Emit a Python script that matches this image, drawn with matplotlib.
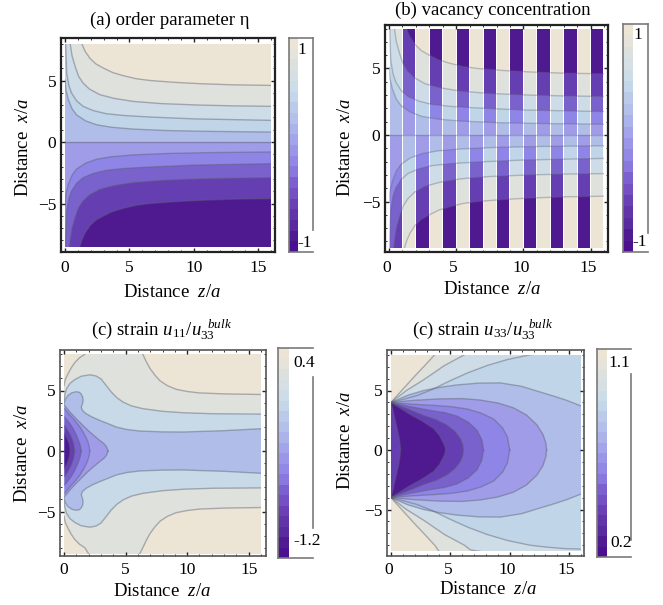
import numpy as np
import matplotlib
matplotlib.use("Agg")
import matplotlib.pyplot as plt
from matplotlib.lines import Line2D
from matplotlib.patches import Polygon, Rectangle
from matplotlib.transforms import ScaledTranslation

plt.rcParams['font.family'] = ['Liberation Serif', 'DejaVu Serif']
plt.rcParams['mathtext.fontset'] = 'custom'
plt.rcParams['mathtext.rm'] = 'Liberation Serif'
plt.rcParams['mathtext.it'] = 'Liberation Serif:italic'

W, H = 663, 605

# contour levels, (z, x) in units of a
eta1_z = [1.0, 1.3, 1.55, 1.94, 2.4, 3.0, 3.7, 4.5, 5.5, 6.6, 8.5, 10.5, 13, 16]
eta1_x = [9.0, 8.0, 7.4, 6.8, 6.35, 6.0, 5.65, 5.4, 5.15, 5.0, 4.85, 4.74, 4.65, 4.6]
eta2_z = [0.3, 0.4, 0.55, 0.8, 1.05, 1.4, 1.9, 2.7, 3.8, 5.3, 7.5, 10.5, 13, 16]
eta2_x = [9.0, 8.0, 7.0, 6.1, 5.35, 4.8, 4.3, 3.85, 3.55, 3.3, 3.12, 3.0, 2.94, 2.9]
eta3_z = [0.02, 0.05, 0.13, 0.3, 0.5, 0.9, 1.4, 2.2, 3.2, 4.6, 6.6, 10, 16]
eta3_x = [9.0, 8.0, 5.6, 4.6, 4.0, 3.35, 2.9, 2.55, 2.3, 2.15, 2.03, 1.88, 1.76]
eta4_z = [0, 0.08, 0.26, 0.55, 0.9, 1.6, 2.46, 3.6, 5.3, 8, 11.5, 16]
eta4_x = [5.07, 4.2, 3.44, 2.7, 2.2, 1.72, 1.4, 1.2, 1.05, 0.93, 0.86, 0.81]

u11a_z = [0, 0.1, 0.33, 0.6, 0.87, 1.25, 1.7, 2.3, 5.9, 6.4, 6.7, 7, 7.4, 7.8, 8.4, 9.1, 10, 11, 13, 16]
u11a_x = [5.4, 5.9, 6.4, 6.9, 7.3, 7.7, 8.0, 9.0, 9.0, 8.0, 7.35, 6.8, 6.25, 5.8, 5.4, 5.1, 4.92, 4.8, 4.72, 4.67]
u11b_z = [0, 0.08, 0.2, 0.5, 0.87, 1.4, 2.1, 2.6, 3.0, 3.4, 3.85, 4.3, 4.8, 5.5, 6.4, 8, 9.7, 12, 16]
u11b_x = [4.18, 4.7, 5.15, 5.6, 5.9, 6.18, 6.3, 6.2, 5.96, 5.45, 4.86, 4.4, 4.04, 3.72, 3.5, 3.28, 3.16, 3.08, 3.05]
u11c_z = [0, 0.12, 0.33, 0.65, 1.0, 1.25, 1.4, 1.52, 1.55, 1.5, 1.4, 1.5, 1.8, 2.3, 2.9, 3.6, 4.25, 5.1, 6.15, 8, 9.7, 13, 16]
u11c_x = [3.9, 4.3, 4.6, 4.82, 4.9, 4.85, 4.7, 4.45, 4.18, 3.9, 3.63, 3.35, 3.08, 2.8, 2.53, 2.25, 1.98, 1.78, 1.65, 1.58, 1.57, 1.68, 1.84]
u11d_z = [0.05, 0.5, 1.0, 1.5, 1.95, 2.4, 2.9, 3.25, 3.45, 3.58]
u11d_x = [3.76, 3.2, 2.66, 2.15, 1.7, 1.3, 0.88, 0.6, 0.35, 0]
u11e_z = [0.05, 0.45, 0.87, 1.25, 1.55, 1.8, 1.95, 2.05, 2.09]
u11e_x = [3.5, 3.0, 2.53, 2.05, 1.57, 1.1, 0.74, 0.35, 0]
u11f_z = [0.05, 0.3, 0.6, 0.9, 1.14, 1.3, 1.41]
u11f_x = [2.8, 2.5, 2.1, 1.55, 1.0, 0.55, 0]
u11g_z = [0.05, 0.25, 0.46, 0.65, 0.79, 0.87]
u11g_x = [2.1, 1.8, 1.43, 1.0, 0.6, 0]
u11h_z = [0.05, 0.22, 0.38, 0.47, 0.5]
u11h_x = [1.43, 1.1, 0.74, 0.35, 0]

u33a_z = [0, 0.9, 1.9, 2.8, 3.68, 4.1]
u33a_x = [4.0, 5.0, 6.1, 7.05, 8.0, 8.6]
u33b_z = [0, 1.3, 2.75, 4.5, 6.18, 6.7]
u33b_x = [4.0, 5.0, 5.9, 7.1, 8.0, 8.4]
u33c_z = [0, 1, 2.2, 3.5, 5, 6.5, 8.1, 9.8, 11.7, 13, 14.5, 16]
u33c_x = [4.0, 4.25, 4.58, 5.1, 5.83, 6.5, 7.1, 7.6, 8.0, 8.15, 8.28, 8.33]
u33d_z = [0, 1.4, 2.75, 4, 5.56, 7.4, 9.2, 11, 12.6, 13.8, 14.8, 16]
u33d_x = [4.0, 4.6, 5.0, 5.25, 5.47, 5.62, 5.64, 5.35, 4.86, 4.5, 4.17, 3.7]
u33e_z = [0, 2, 4.16, 6, 7.5, 9, 10.3, 11.4, 12.3, 12.8, 13.05, 13.1]
u33e_x = [4.0, 4.18, 4.3, 4.32, 4.2, 3.95, 3.55, 2.95, 2.1, 1.3, 0.55, 0]
u33f_z = [0, 1.8, 3.6, 5, 6.4, 7.6, 8.65, 9.4, 9.8, 10.0]
u33f_x = [4.0, 3.85, 3.75, 3.65, 3.45, 3.1, 2.6, 1.85, 1.1, 0]
u33g_z = [0, 1.6, 3.3, 4.5, 5.56, 6.5, 7.25, 7.65, 7.8]
u33g_x = [4.0, 3.65, 3.33, 3.15, 2.85, 2.35, 1.66, 0.85, 0]
u33h_z = [0, 1.4, 2.75, 3.8, 4.7, 5.4, 5.84, 6.05, 6.1]
u33h_x = [4.0, 3.45, 2.9, 2.55, 2.1, 1.55, 0.97, 0.45, 0]
u33i_z = [0, 0.8, 1.6, 2.6, 3.6, 4.1, 4.44, 4.58, 4.6]
u33i_x = [4.0, 3.5, 3.0, 2.45, 1.8, 1.2, 0.55, 0.18, 0]
u33j_z = [0, 0.2, 0.35, 0.5, 0.65, 0.75, 0.8]
u33j_x = [4.0, 3.2, 2.5, 1.85, 1.2, 0.6, 0]

band_colors = ['#ece5d5', '#dfe1dc', '#cddce6', '#c0d6e8', '#b0bde9',
               '#a09ce8', '#8f85e6', '#7a62cc', '#653fb2', '#4f1a90']
cbar_colors = ['#4a1090', '#4f1a92', '#5a2a9f', '#6234aa', '#6b40b5',
               '#7550c4', '#7d60d0', '#8a78de', '#9488e6', '#9c96e8',
               '#a4a4ea', '#acb2ea', '#b5c0ea', '#bccaea', '#c4d6ea',
               '#ccdde8', '#d5dfe4', '#dde1de', '#e6e3da', '#ece5d5']
line_color = '#5c5f70'


def new_axes(fig, box, fill_l, fill_r, y0, sy, frame, lw, pad=3, label_shift=0):
    l, t, r, b = box
    ax = fig.add_axes([l / W, 1 - b / H, (r - l) / W, (b - t) / H])
    sx = (fill_r - fill_l) / 16
    ax.set_xlim(-(fill_l - l) / sx, 16 + (r - fill_r) / sx)
    ax.set_ylim((y0 - b) / sy, (y0 - t) / sy)
    ax.set_xticks([0, 5, 10, 15])
    ax.set_yticks([-5, 0, 5])
    ax.set_yticklabels(['\u22125', '0', '5'])
    ax.set_xticks(np.arange(0, 17), minor=True)
    ax.set_yticks(np.arange(-8, 9), minor=True)
    ax.tick_params(axis='x', pad=pad)
    ax.tick_params(which='major', direction='in', length=3, width=1, top=True, right=True,
                   labelsize=12.5, color='#222222')
    ax.tick_params(which='minor', direction='in', length=1.5, width=0.7, top=True, right=True, color='#333333')
    # the tick labels sit a little left of their ticks in panels b and d
    shift = ScaledTranslation(label_shift / 100, 0, fig.dpi_scale_trans)
    for lab in ax.get_xticklabels():
        lab.set_transform(lab.get_transform() + shift)
    for s in ax.spines.values():
        s.set_color(frame)
        s.set_linewidth(lw)
    return ax


def fill_clip(ax):
    return Rectangle((0, -8.5), 16, 16.5, transform=ax.transData)


def add_poly(ax, pts, color, clip):
    p = Polygon(pts, closed=True, facecolor=color, edgecolor='none', zorder=1)
    ax.add_patch(p)
    p.set_clip_path(clip)


def add_line(ax, z, x, clip, alpha=0.45):
    ln, = ax.plot(z, x, color=line_color, lw=1.0, alpha=alpha, zorder=3)
    ln.set_clip_path(clip)


def eta_bands(ax, colors, clip):
    add_poly(ax, [(-1, -10), (17, -10), (17, 10), (-1, 10)], colors[9], clip)
    lower = [(eta1_z, eta1_x), (eta2_z, eta2_x), (eta3_z, eta3_x), (eta4_z, eta4_x)]
    for i, (z, x) in enumerate(lower):
        pts = [(a, -b) for a, b in zip(z, x)]
        pts += [(17, -x[-1]), (17, 10), (-1, 10), (-1, -x[0])]
        add_poly(ax, pts, colors[8 - i], clip)
    add_poly(ax, [(-1, 0), (17, 0), (17, 10), (-1, 10)], colors[4], clip)
    for i, (z, x) in enumerate(lower[::-1]):
        pts = list(zip(z, x)) + [(17, x[-1]), (17, 10), (z[0], 10)]
        add_poly(ax, pts, colors[3 - i], clip)


def eta_lines(ax, clip, alpha=0.45):
    for z, x in [(eta1_z, eta1_x), (eta2_z, eta2_x), (eta3_z, eta3_x), (eta4_z, eta4_x)]:
        add_line(ax, z, x, clip, alpha)
        add_line(ax, z, [-v for v in x], clip, alpha)
    add_line(ax, [0, 16], [0, 0], clip, alpha)


def sym_bands(ax, curves, colors, clip):
    for (z, x), c in zip(curves, colors):
        up = list(zip(z, x))
        add_poly(ax, up + [(a, -b) for a, b in up[::-1]], c, clip)
    for z, x in curves:
        add_line(ax, z, x, clip)
        add_line(ax, z, [-v for v in x], clip)


def px_text(fig, x, y, s, **kw):
    kw.setdefault('ha', 'center')
    kw.setdefault('va', 'center')
    fig.text(x / W, 1 - y / H, s, **kw)


def px_line(fig, xs, ys, color='#7a7a7a', lw=1.2):
    fig.add_artist(Line2D([v / W for v in xs], [1 - v / H for v in ys], color=color, lw=lw,
                          transform=fig.transFigure))


def colorbar(fig, l, t, r, b, right, rail, labels):
    cax = fig.add_axes([l / W, 1 - b / H, (r - l) / W, (b - t) / H])
    cax.barh(np.arange(20), np.ones(20), height=1.0, color=cbar_colors)
    cax.set_xlim(0, 1)
    cax.set_ylim(-0.5, 19.5)
    cax.axis('off')
    px_line(fig, [l, l], [t, b])
    px_line(fig, [l, right], [t, t])
    px_line(fig, [l, right], [b, b])
    px_line(fig, [right, right], rail)
    for x, y, s in labels:
        px_text(fig, x, y, s, fontsize=12.5)


fig = plt.figure(figsize=(W / 100, H / 100), dpi=100, facecolor='white')

# (a) order parameter
ax_a = new_axes(fig, (61, 38, 275, 252), 65, 271, 142, 12.3, '#222222', 1.6, pad=6)
clip = fill_clip(ax_a)
eta_bands(ax_a, band_colors, clip)
eta_lines(ax_a, clip)

# (b) vacancy concentration, the sublattices alternate every unit of z
ax_b = new_axes(fig, (385, 25, 608, 252), 389, 604, 135, 13.3, '#222222', 1.6, pad=6, label_shift=-2.5)
for k in range(16):
    stripe = Rectangle((k + 0.04, -8.5), 0.92, 16.5, transform=ax_b.transData)
    eta_bands(ax_b, band_colors if k % 2 == 0 else band_colors[::-1], stripe)
eta_lines(ax_b, fill_clip(ax_b), alpha=0.35)

# (c) strain u11
ax_c = new_axes(fig, (60, 350, 266, 556), 64, 261, 451, 12.1, '#555555', 1.2, pad=4)
clip = fill_clip(ax_c)
add_poly(ax_c, [(-1, -10), (17, -10), (17, 10), (-1, 10)], band_colors[0], clip)
sym_bands(ax_c, [(u11a_z, u11a_x), (u11b_z, u11b_x), (u11c_z, u11c_x), (u11d_z, u11d_x),
                 (u11e_z, u11e_x), (u11f_z, u11f_x), (u11g_z, u11g_x), (u11h_z, u11h_x)],
          ['#dfe1dc', '#c8dae7', '#b0bde9', '#a09ce8', '#8f85e6', '#7a62cc', '#653fb2', '#4f1a90'], clip)

# (d) strain u33
ax_d = new_axes(fig, (387, 350, 584, 556), 391, 581, 450, 11.9, '#555555', 1.2, pad=4, label_shift=-2.5)
clip = fill_clip(ax_d)
add_poly(ax_d, [(-1, -10), (17, -10), (17, 10), (-1, 10)], band_colors[0], clip)
sym_bands(ax_d, [(u33a_z + [17], u33a_x + [10]), (u33b_z + [17], u33b_x + [10]), (u33c_z, u33c_x),
                 (u33d_z, u33d_x), (u33e_z, u33e_x), (u33f_z, u33f_x), (u33g_z, u33g_x),
                 (u33h_z, u33h_x), (u33i_z, u33i_x), (u33j_z, u33j_x)],
          band_colors[1:] + ['#653fb2'], clip)

colorbar(fig, 289, 38, 298, 252, 313, [38, 230], [(302, 50, '1'), (305, 243, '-1')])
colorbar(fig, 623, 24, 633, 252, 648, [24, 233], [(638, 35, '1'), (640, 242, '-1')])
colorbar(fig, 278, 348, 289, 558, 313, [377, 528], [(304, 363, '0.4'), (307, 541, '-1.2')])
colorbar(fig, 597, 349, 607, 557, 631, [374, 540], [(619, 363, '1.1'), (621, 543, '0.2')])

px_text(fig, 170, 20, '(a) order parameter \u03b7', fontsize=13.5)
px_text(fig, 493, 10, '(b) vacancy concentration', fontsize=13.5)
px_text(fig, 162, 330, r'(c) strain $u_{11}/u_{33}^{\ \ bulk}$', fontsize=13.5)
px_text(fig, 483, 330, r'(c) strain $u_{33}/u_{33}^{\ \ bulk}$', fontsize=13.5)

for x, y in [(172, 292), (492, 289), (162, 592), (488, 589)]:
    px_text(fig, x, y, r'Distance  $z/a$', fontsize=13.5)
for x, y in [(24, 147), (346, 147), (23, 453), (346, 440)]:
    px_text(fig, x, y, r'Distance  $x/a$', fontsize=13.5, rotation=90)

fig.savefig("out.png", dpi=100)
